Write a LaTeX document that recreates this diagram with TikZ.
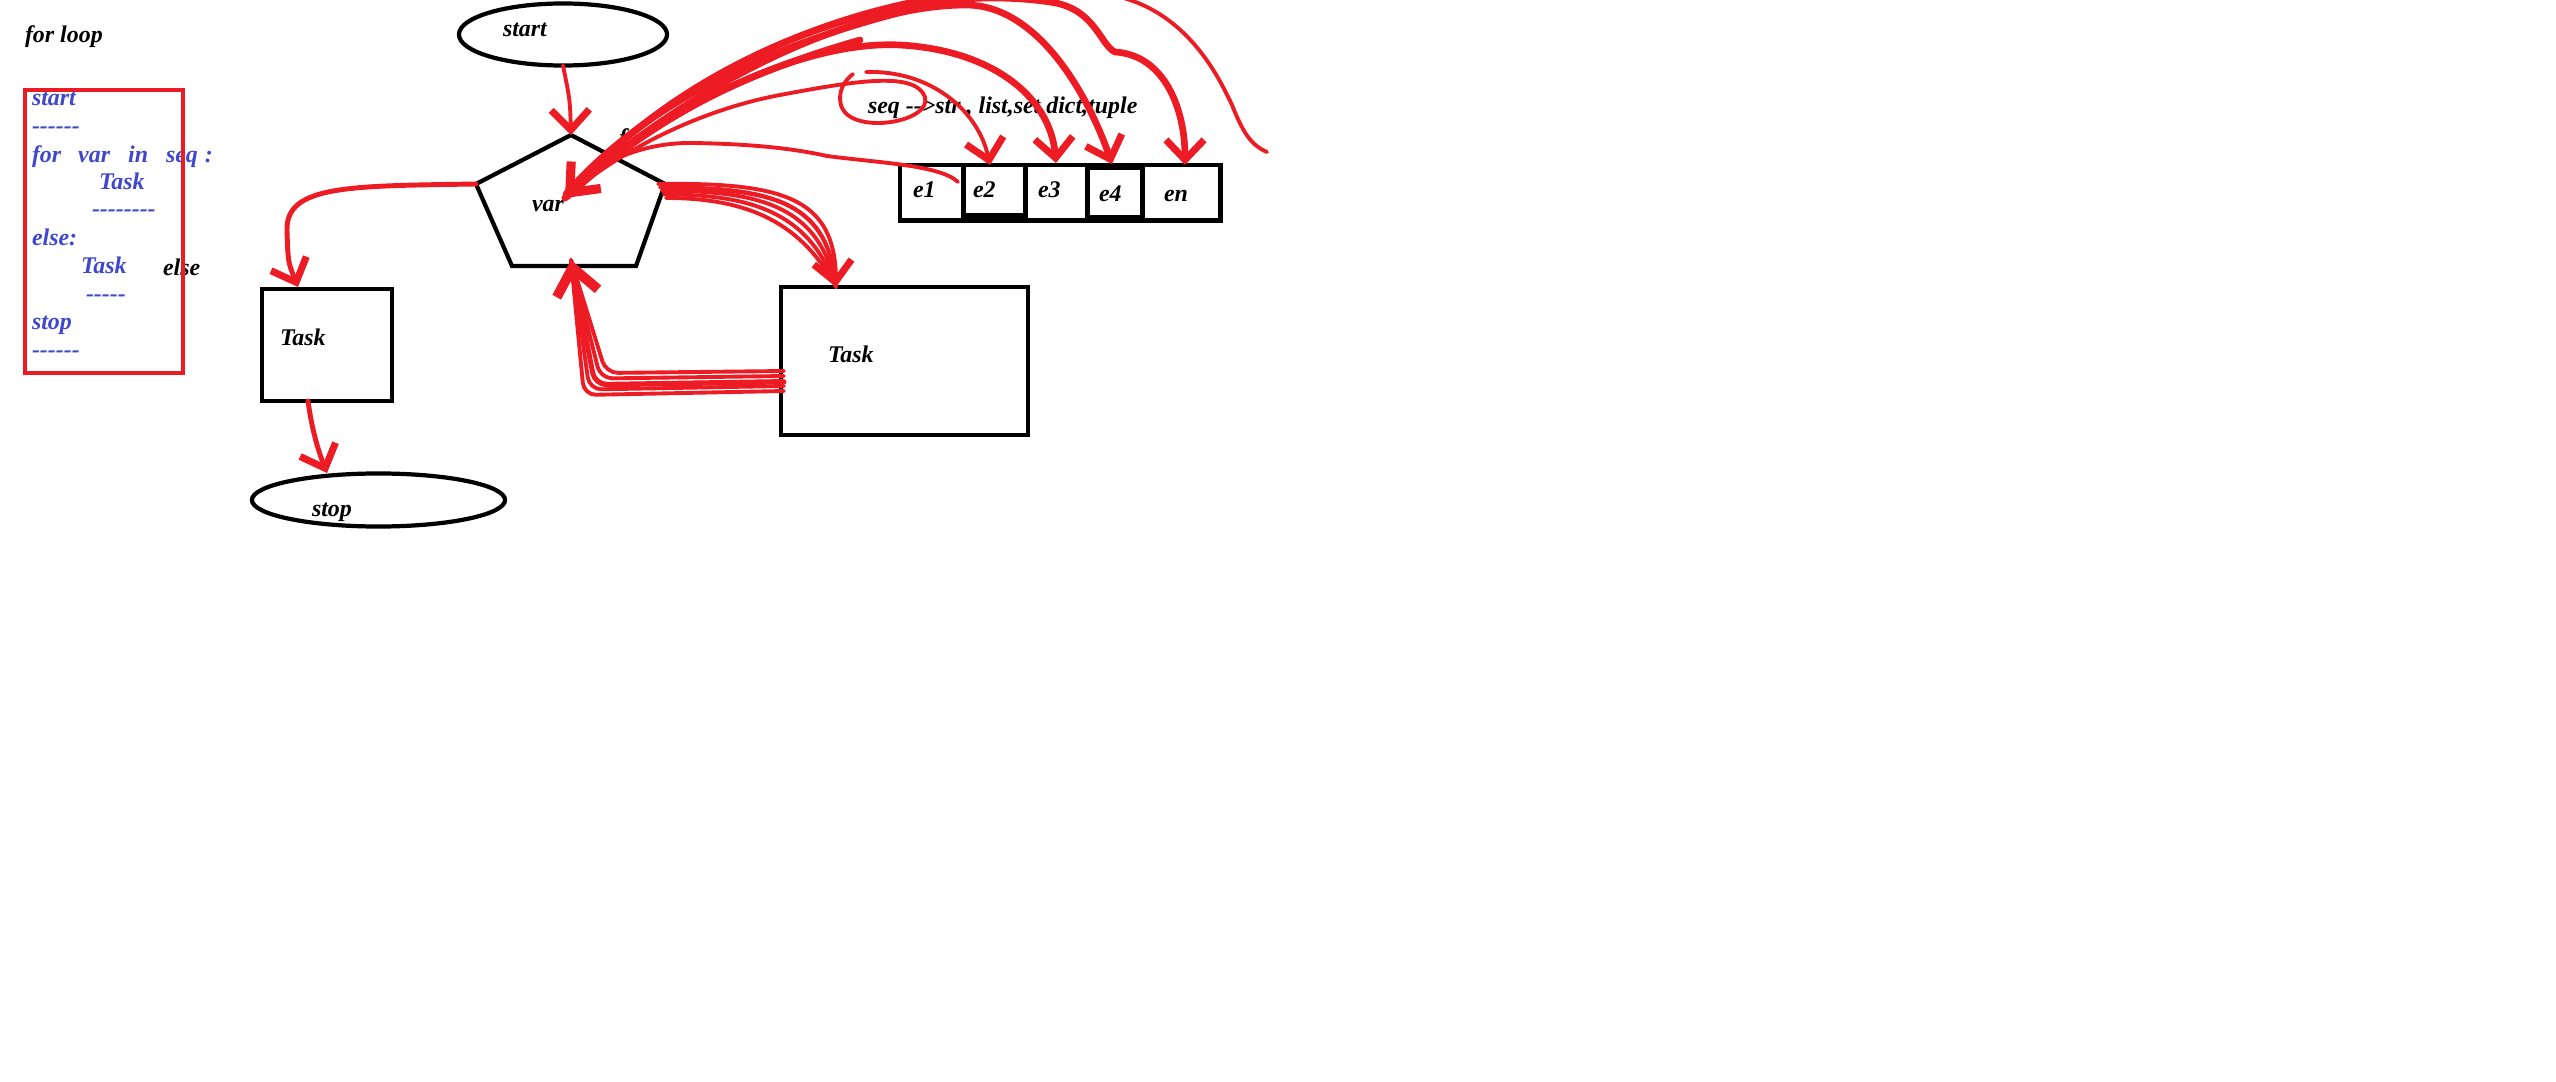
\documentclass[tikz,border=0pt]{standalone}
\usepackage{fontspec}
\setmainfont{Liberation Serif}
\usetikzlibrary{shapes.geometric,arrows.meta}
\definecolor{myred}{HTML}{ED1C24}
\definecolor{codeblue}{HTML}{3F48CC}
\newcommand\hy{-\kern0pt\relax}
\begin{document}
\begin{tikzpicture}[x=0.01cm,y=-0.01cm,
  every node/.style={font=\fontsize{6.8}{8}\selectfont\bfseries\itshape, inner sep=0pt, outer sep=0pt},
  txt/.style={anchor=base west},
  codeline/.style={anchor=base west, text=codeblue},
  blk/.style={draw=black, line width=1.2pt},
  cell/.style={fill=white},
  redthin/.style={draw=myred, line width=1.1pt, line cap=round, line join=round},
  redmid/.style={draw=myred, line width=1.4pt, line cap=round, line join=round},
  redthick/.style={draw=myred, line width=1.9pt, line cap=round, line join=round},
  tiphd/.style={-{Straight Barb[length=0.2cm,width=0.38cm,line width=2pt]}},
  bigtip/.style={-{Straight Barb[length=0.26cm,width=0.42cm,line width=2.8pt]}}]
\useasboundingbox (0,0) rectangle (2556,1082);
\fill[white] (0,0) rectangle (2556,1082);

% title and code listing
\node[txt] (title) at (25,43) {for loop};
\node[codeline] (c1) at (32,106) {start};
\node[codeline] (c2) at (32,134) {\hy\hy\hy\hy\hy\hy};
\node[codeline] (c3) at (32,163) {for\hspace{0.17cm}var\hspace{0.18cm}in\hspace{0.18cm}seq\hspace{0.07cm}:};
\node[codeline] (c4) at (99,190) {Task};
\node[codeline] (c5) at (92,217) {\hy\hy\hy\hy\hy\hy\hy\hy};
\node[codeline] (c6) at (32,246) {else:};
\node[codeline] (c7) at (81,274) {Task};
\node[codeline] (c8) at (86,301) {\hy\hy\hy\hy\hy};
\node[codeline] (c9) at (32,330) {stop};
\node[codeline] (c10) at (32,357) {\hy\hy\hy\hy\hy\hy};
\node[txt] (elsel) at (163,276) {else};
\node[draw=myred, line width=1.3pt, minimum width=1.58cm, minimum height=2.83cm] (codebox) at (104,231.5) {};

% flowchart shapes
\node[ellipse, blk, minimum width=2.08cm, minimum height=0.62cm] (start) at (563,34.5) {};
\node[txt] (startt) at (503,37) {start};
\coordinate (pT) at (571,135);
\coordinate (pR) at (665,184);
\coordinate (pBR) at (636,266);
\coordinate (pBL) at (512,266);
\coordinate (pL) at (476,184);
\draw[blk, line join=miter] (pT) -- (pR) -- (pBR) -- (pBL) -- (pL) -- cycle;
\node[txt] (vart) at (532,212) {var};
\node[txt] (ft) at (619,146) {f};
\node[rectangle, blk, minimum width=1.30cm, minimum height=1.12cm] (task1) at (327,345) {};
\node[txt] (task1t) at (280,346) {Task};
\node[ellipse, blk, minimum width=2.53cm, minimum height=0.53cm] (stop) at (378.5,500) {};
\node[txt] (stopt) at (312,516) {stop};
\node[rectangle, blk, minimum width=2.47cm, minimum height=1.48cm] (task2) at (904.5,361) {};
\node[txt] (task2t) at (828,363) {Task};

% sequence array
\node[fill=black, minimum width=3.25cm, minimum height=0.60cm] (arr) at (1060.5,193) {};
\node[cell, minimum width=0.59cm, minimum height=0.51cm] (e1) at (931.5,192.5) {};
\node[cell, minimum width=0.57cm, minimum height=0.46cm] (e2) at (994.5,190) {};
\node[cell, minimum width=0.57cm, minimum height=0.51cm] (e3) at (1056.5,192.5) {};
\node[cell, minimum width=0.50cm, minimum height=0.45cm] (e4) at (1115,192.5) {};
\node[cell, minimum width=0.73cm, minimum height=0.51cm] (en) at (1181.5,192.5) {};
\node[txt] (e1t) at (913,198) {e1};
\node[txt] (e2t) at (973,198) {e2};
\node[txt] (e3t) at (1038,198) {e3};
\node[txt] (e4t) at (1099,202) {e4};
\node[txt] (ent) at (1164,202) {en};
\node[txt] (seqt) at (868,114) {seq \hy\hy>str , list,set,dict,tuple};

% red hand-drawn connectors
\begin{scope}
\clip (0,0) rectangle (2556,1082);
\coordinate (t1in) at (298,287);
\coordinate (t1out) at (308,401);
\coordinate (stopin) at (327,473);
\coordinate (t2in) at (836,287);
\coordinate (pBtip) at (571,260);
\coordinate (vtip) at (565,198);
\coordinate (e1in) at (958,182);
\coordinate (e2in) at (990,165);
\coordinate (e3in) at (1056,163);
\coordinate (e4in) at (1112,164);
\coordinate (enin) at (1185,165);
\coordinate (seqhook) at (853,74);
\coordinate (e2from) at (866,72);
\coordinate (longend) at (1267,152);

\draw[redthin, tiphd] (start.south) .. controls (570,100) .. (pT);
\draw[redmid, tiphd] (pL) .. controls (350,186) and (286,185) .. (287,230) .. controls (288,262) .. (t1in);
\draw[redmid, tiphd] (t1out) .. controls (312,430) and (318,450) .. (stopin);

\foreach \k in {0,...,4}
  \draw[redthin] (658+2*\k,184+3.5*\k) .. controls (790-10*\k,182+4*\k) and (838-9*\k,200+6*\k) .. (t2in);
\draw[redthin, tiphd] (664,190) .. controls (775,186) and (825,205) .. (t2in);

\foreach \k in {0,...,4}
  \draw[redthin, rounded corners=0.12cm] (784,371+5*\k) -- (606-5.5*\k,373+5.5*\k) -- (pBtip);
\draw[redmid, bigtip, rounded corners=0.12cm] (784,382) -- (595,385) -- (pBtip);

\draw[redthin] (vtip) .. controls (590,165) and (640,142) .. (693,143) .. controls (760,144) and (800,150) .. (827,156) .. controls (880,163) and (940,165) .. (e1in);
\draw[redthin] (vtip) .. controls (620,150) and (700,110) .. (780,95) .. controls (850,82) and (915,70) .. (925,97) .. controls (932,122) and (855,135) .. (842,108) .. controls (836,92) and (845,80) .. (seqhook);
\draw[redthin, tiphd] (e2from) .. controls (930,70) and (978,110) .. (e2in);
\draw[redthick, tiphd] (vtip) .. controls (660,110) and (800,40) .. (900,45) .. controls (990,50) and (1050,95) .. (e3in);
\draw[redthick, tiphd] (vtip) .. controls (680,90) and (850,5) .. (966,5) .. controls (1040,5) and (1090,100) .. (e4in);
\draw[redthick, {Straight Barb[length=0.24cm,width=0.4cm,line width=2.6pt]}-{Straight Barb[length=0.2cm,width=0.38cm,line width=2pt]}] (vtip) .. controls (700,50) and (900,-20) .. (1050,2) .. controls (1095,8) and (1100,45) .. (1115,52) .. controls (1165,55) and (1185,110) .. (enin);
\draw[redthin] (572,190) .. controls (700,40) and (950,-40) .. (1120,-3) .. controls (1190,15) and (1220,80) .. (1232,105) .. controls (1242,130) and (1250,145) .. (longend);
\draw[redthick] (568,196) .. controls (640,130) and (720,80) .. (860,40);
\draw[redthick] (566,194) .. controls (630,120) and (740,50) .. (930,5);
\end{scope}
\end{tikzpicture}
\end{document}
